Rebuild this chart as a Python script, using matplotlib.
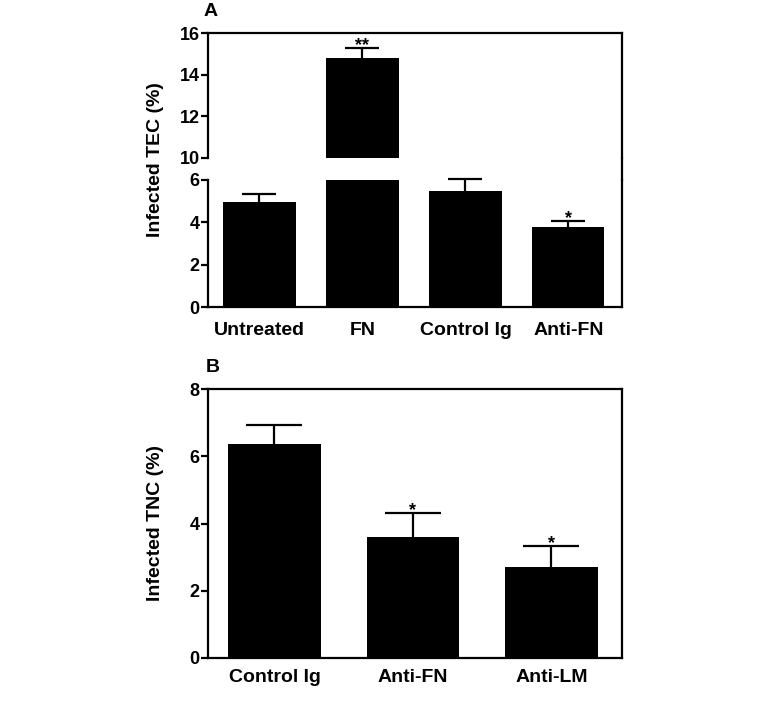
import numpy as np
import matplotlib
matplotlib.use("Agg")
import matplotlib.pyplot as plt
from matplotlib.lines import Line2D

plt.rcParams['font.family'] = ['Liberation Sans', 'DejaVu Sans']
plt.rcParams['font.weight'] = 'bold'

# panel A data
cats_a = ['Untreated', 'FN', 'Control Ig', 'Anti-FN']
vals_a = [4.97, 14.8, 5.5, 3.8]
err_a = [0.35, 0.5, 0.57, 0.25]
stars_a = ['', '**', '', '*']

# panel B data
cats_b = ['Control Ig', 'Anti-FN', 'Anti-LM']
vals_b = [6.35, 3.6, 2.7]
err_b = [0.57, 0.72, 0.62]
stars_b = ['', '*', '*']

W, H = 771, 701
fig = plt.figure(figsize=(W / 100, H / 100), dpi=100)

def box(l, t, r, b):
    return [l / W, 1 - b / H, (r - l) / W, (b - t) / H]

ax_hi = fig.add_axes(box(208, 33, 622, 158))
ax_lo = fig.add_axes(box(208, 180, 622, 307))
ax_b = fig.add_axes(box(208, 389, 622, 658))

lw = 1.6

def style(ax, xpad):
    for s in ax.spines.values():
        s.set_linewidth(lw)
    ax.tick_params(axis='y', length=5, width=lw, labelsize=13, pad=1)
    ax.tick_params(axis='x', length=0, labelsize=14, pad=xpad)

def up_errors(ax, x, v, e, cap):
    # one-sided (upward) error bars, may poke past the axes top
    eb = ax.errorbar(x, v, yerr=[np.zeros(len(e)), e], fmt='none',
                     ecolor='black', elinewidth=lw, capsize=cap,
                     capthick=lw, clip_on=False)
    eb[1][0].set_visible(False)  # no cap at the bar top

def stars(ax, x, v, e, s):
    for xi, vi, ei, si in zip(x, v, e, s):
        if si:
            ax.annotate(si, (xi, vi + ei), xytext=(0, -1.5),
                        textcoords='offset points', ha='center',
                        va='baseline', fontsize=13, annotation_clip=False)

xa = np.arange(len(cats_a))
va = np.array(vals_a)
ea = np.array(err_a)
hi = va > 10
for ax in (ax_hi, ax_lo):
    ax.bar(xa, vals_a, width=0.7, color='black')
    ax.set_xlim(-0.5, 3.52)
    style(ax, 11)

up_errors(ax_hi, xa[hi], va[hi], ea[hi], 12)
up_errors(ax_lo, xa[~hi], va[~hi], ea[~hi], 12)
stars(ax_hi, xa[hi], va[hi], ea[hi], np.array(stars_a)[hi])
stars(ax_lo, xa[~hi], va[~hi], ea[~hi], np.array(stars_a)[~hi])

ax_hi.set_ylim(10, 16)
ax_hi.set_yticks([10, 12, 14, 16])
ax_hi.spines['bottom'].set_visible(False)
ax_hi.set_xticks([])
ax_lo.set_ylim(0, 6)
ax_lo.set_yticks([0, 2, 4, 6])
ax_lo.spines['top'].set_visible(False)
ax_lo.set_xticks(xa)
ax_lo.set_xticklabels(cats_a)

# right spine continues across the break
fig.add_artist(Line2D([622 / W, 622 / W], [1 - 158 / H, 1 - 180 / H],
                      color='black', linewidth=lw))

fig.text(156 / W, 1 - 160 / H, 'Infected TEC (%)', rotation=90,
         ha='center', va='center', fontsize=14)
fig.text(204 / W, 1 - 12 / H, 'A', ha='left', va='center', fontsize=14)

xb = np.arange(len(cats_b))
ax_b.bar(xb, vals_b, width=0.67, color='black')
up_errors(ax_b, xb, vals_b, err_b, 20)
stars(ax_b, xb, vals_b, err_b, stars_b)
ax_b.set_xlim(-0.48, 2.51)
ax_b.set_ylim(0, 8)
ax_b.set_yticks([0, 2, 4, 6, 8])
ax_b.set_xticks(xb)
ax_b.set_xticklabels(cats_b)
style(ax_b, 8)

fig.text(156 / W, 1 - 523 / H, 'Infected TNC (%)', rotation=90,
         ha='center', va='center', fontsize=14)
fig.text(206 / W, 1 - 367 / H, 'B', ha='left', va='center', fontsize=14)

fig.savefig('out.png', dpi=100)
